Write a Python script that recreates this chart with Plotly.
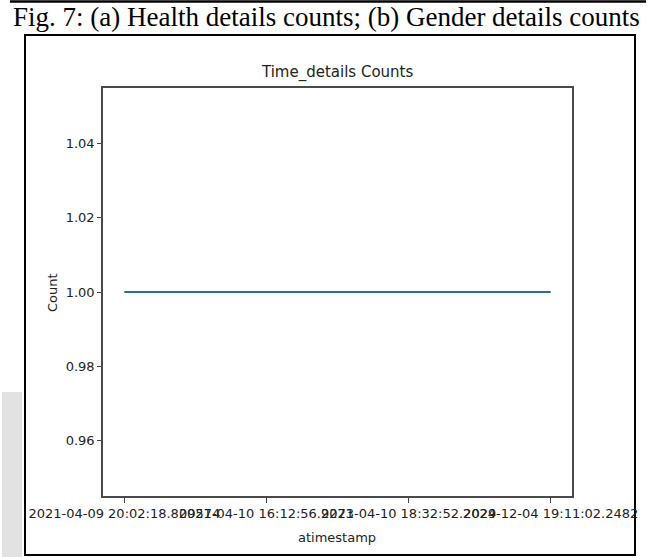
import plotly.graph_objects as go

# Data: one record per timestamp
timestamps = [
    "2021-04-09 20:02:18.809574",
    "2021-04-10 16:12:56.9273",
    "2021-04-10 18:32:52.2029",
    "2024-12-04 19:11:02.2482",
]
counts = [1, 1, 1, 1]
y_ticks = [0.96, 0.98, 1.00, 1.02, 1.04]

W, H = 654, 557
L, R, T, B = 103, 572, 88, 496  # plot area in pixels


def px_x(x):
    return (x - L) / (R - L)


def px_y(y):
    return (B - y) / (B - T)


fig = go.Figure()
fig.add_trace(go.Scatter(
    x=list(range(len(timestamps))),
    y=counts,
    mode="lines",
    line=dict(color="#2c6f8c", width=2),
    hoverinfo="skip",
))

font_plot = dict(family="DejaVu Sans", size=13, color="#222222")

fig.update_layout(
    width=W, height=H,
    margin=dict(l=L, r=W - R, t=T, b=H - B),
    paper_bgcolor="white", plot_bgcolor="white",
    showlegend=False,
    font=font_plot,
    xaxis=dict(
        range=[-0.15, len(timestamps) - 1 + 0.15],
        tickmode="array",
        tickvals=list(range(len(timestamps))),
        ticktext=timestamps,
        tickangle=0,
        ticks="outside", ticklen=5, tickwidth=1, tickcolor="#444",
        showgrid=False, zeroline=False,
        showline=True, linecolor="#4a4a4a", linewidth=1.5, mirror=True,
        tickfont=font_plot,
    ),
    yaxis=dict(
        range=[0.945, 1.055],
        tickmode="array",
        tickvals=y_ticks,
        ticktext=[f"{v:.2f}" for v in y_ticks],
        ticks="outside", ticklen=4, tickwidth=1, tickcolor="#444",
        showgrid=False, zeroline=False,
        showline=True, linecolor="#4a4a4a", linewidth=1.5, mirror=True,
        tickfont=font_plot,
    ),
)

shapes = []
# top rule above the caption
shapes.append(dict(type="line", xref="paper", yref="paper",
                   x0=px_x(10), x1=px_x(646), y0=px_y(1.5), y1=px_y(1.5),
                   line=dict(color="black", width=2.5)))
# outer frame around the chart
shapes.append(dict(type="rect", xref="paper", yref="paper",
                   x0=px_x(25), x1=px_x(635), y0=px_y(35), y1=px_y(555),
                   line=dict(color="black", width=2), layer="below"))
# page edge shading at lower left
shapes.append(dict(type="rect", xref="paper", yref="paper",
                   x0=px_x(2), x1=px_x(22), y0=px_y(392), y1=px_y(557),
                   line=dict(width=0), fillcolor="#e2e2e2", layer="below"))
fig.update_layout(shapes=shapes)

annotations = [
    dict(text="Fig. 7: (a) Health details counts; (b) Gender details counts",
         x=px_x(326), y=px_y(17), xref="paper", yref="paper",
         xanchor="center", yanchor="middle", showarrow=False,
         font=dict(family="Liberation Serif", size=27, color="black")),
    dict(text="Time_details Counts",
         x=px_x(337), y=px_y(73), xref="paper", yref="paper",
         xanchor="center", yanchor="middle", showarrow=False,
         font=dict(family="DejaVu Sans", size=15, color="#222222")),
    dict(text="Count", textangle=-90,
         x=px_x(52), y=px_y(293), xref="paper", yref="paper",
         xanchor="center", yanchor="middle", showarrow=False,
         font=font_plot),
    dict(text="atimestamp",
         x=px_x(337), y=px_y(537), xref="paper", yref="paper",
         xanchor="center", yanchor="middle", showarrow=False,
         font=font_plot),
]
fig.update_layout(annotations=annotations)

fig.write_html("out.html")
